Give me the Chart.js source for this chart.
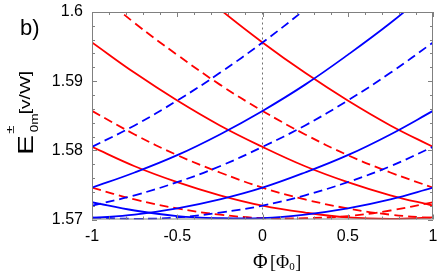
<!DOCTYPE html>
<html>
<head>
<meta charset="utf-8">
<title>E0m vs flux</title>
<script src="https://cdn.jsdelivr.net/npm/chart.js@4.4.1/dist/chart.umd.min.js"></script>
<style>
  html, body { margin: 0; padding: 0; background: #fff; }
  #wrap { width: 439px; height: 277px; }
</style>
</head>
<body>
<div id="wrap"><canvas id="chart" width="439" height="277"></canvas></div>
<script>
const phi = [-1, -0.75, -0.5, -0.25, 0, 0.25, 0.5, 0.75, 1];

// Blue, solid (rising branches)
const blueSolidA = [1.5725, 1.5713, 1.5705, 1.5702, 1.5702, 1.5707, 1.5716, 1.5729, 1.5746];
const blueSolidB = [1.5702, 1.5707, 1.5716, 1.5729, 1.5746, 1.5768, 1.5793, 1.5823, 1.5857];
const blueSolidC = [1.5746, 1.5768, 1.5793, 1.5823, 1.5857, 1.5895, 1.5938, 1.5984, 1.6035];

// Blue, dashed
const blueDashA = [1.5703, 1.5701, 1.5703, 1.5710, 1.5720, 1.5735, 1.5754, 1.5777, 1.5805];
const blueDashB = [1.5720, 1.5735, 1.5754, 1.5777, 1.5805, 1.5836, 1.5872, 1.5912, 1.5956];
const blueDashC = [1.5805, 1.5836, 1.5872, 1.5912, 1.5956, 1.6004, 1.6057, 1.6113, 1.6174];

// Red, solid (falling branches)
const redSolidA = [1.5805, 1.5777, 1.5754, 1.5735, 1.5720, 1.5710, 1.5703, 1.5701, 1.5703];
const redSolidB = [1.5956, 1.5912, 1.5872, 1.5836, 1.5805, 1.5777, 1.5754, 1.5735, 1.5720];
const redSolidC = [1.6174, 1.6113, 1.6057, 1.6004, 1.5956, 1.5912, 1.5872, 1.5836, 1.5805];

// Red, dashed
const redDashA = [1.5746, 1.5729, 1.5716, 1.5707, 1.5702, 1.5702, 1.5705, 1.5713, 1.5725];
const redDashB = [1.5857, 1.5823, 1.5793, 1.5768, 1.5746, 1.5729, 1.5716, 1.5707, 1.5702];
const redDashC = [1.6035, 1.5984, 1.5938, 1.5895, 1.5857, 1.5823, 1.5793, 1.5768, 1.5746];

// Axis ticks
const xTickLabels = ['-1', '-0.5', '0', '0.5', '1'];
const yTickLabels = ['1.57', '1.58', '1.59', '1.6'];

const RED = '#ff0000';
const BLUE = '#0000ff';

function series(values, color, dashed) {
    return {
        data: phi.map((p, i) => ({ x: p, y: values[i] })),
        borderColor: color,
        borderWidth: 1.8,
        borderDash: dashed ? [9, 5] : [],
        pointRadius: 0,
        tension: 0.4,
        fill: false
    };
}

// Frame with inward ticks on all four sides
const framePlugin = {
    id: 'frame',
    afterDraw(chart) {
        const { ctx, chartArea: a, scales } = chart;
        const xs = scales.x, ys = scales.y;
        ctx.save();
        ctx.strokeStyle = '#808080';
        ctx.lineWidth = 1;
        ctx.strokeRect(a.left + 0.5, a.top + 0.5, a.right - a.left - 1, a.bottom - a.top - 1);
        ctx.beginPath();
        for (let i = -10; i <= 10; i++) {
            const px = Math.round(xs.getPixelForValue(i / 10)) + 0.5;
            const len = i % 5 === 0 ? 5 : 3;
            ctx.moveTo(px, a.bottom);
            ctx.lineTo(px, a.bottom - len);
            ctx.moveTo(px, a.top);
            ctx.lineTo(px, a.top + len);
        }
        for (let i = 0; i <= 15; i++) {
            const py = Math.round(ys.getPixelForValue(1.57 + i * 0.002)) + 0.5;
            const len = i % 5 === 0 ? 5 : 3;
            ctx.moveTo(a.left, py);
            ctx.lineTo(a.left + len, py);
            ctx.moveTo(a.right, py);
            ctx.lineTo(a.right - len, py);
        }
        ctx.stroke();
        ctx.restore();
    }
};

// Panel letter and axis titles
const titlePlugin = {
    id: 'titles',
    afterDraw(chart) {
        const ctx = chart.ctx;
        ctx.save();
        ctx.fillStyle = '#000';
        ctx.textBaseline = 'alphabetic';
        ctx.textAlign = 'left';

        ctx.font = '22px "Liberation Sans"';
        ctx.fillText('b)', 20, 35);

        // y title, rotated and stretched along the text
        ctx.save();
        ctx.translate(33, 155);
        ctx.rotate(-Math.PI / 2);
        ctx.scale(1.36, 1);
        ctx.font = '22px "Liberation Sans"';
        ctx.fillText('E', 0, 0);
        const ew = ctx.measureText('E').width;
        ctx.font = '10px "Liberation Sans"';
        ctx.fillText('0m', ew + 2, 5);
        ctx.font = '11px "Liberation Sans"';
        ctx.fillText('\u00b1', ew + 1, -19);
        ctx.font = '14px "Liberation Sans"';
        ctx.fillText('[v/W]', 30, -3);
        ctx.restore();

        // x title
        let x = 253;
        ctx.font = '20px "Liberation Serif"';
        ctx.fillText('\u03a6', x, 268);
        x = 270;
        ctx.font = '18px "Liberation Serif"';
        ctx.fillText('[\u03a6', x, 268);
        x += ctx.measureText('[\u03a6').width;
        ctx.font = '11px "Liberation Serif"';
        ctx.fillText('0', x, 270);
        x += ctx.measureText('0').width + 0.5;
        ctx.font = '18px "Liberation Serif"';
        ctx.fillText(']', x, 268);
        ctx.restore();
    }
};

const datasets = [
    series(blueSolidA, BLUE, false),
    series(blueSolidB, BLUE, false),
    series(blueSolidC, BLUE, false),
    series(blueDashA, BLUE, true),
    series(blueDashB, BLUE, true),
    series(blueDashC, BLUE, true),
    series(redSolidA, RED, false),
    series(redSolidB, RED, false),
    series(redSolidC, RED, false),
    series(redDashA, RED, true),
    series(redDashB, RED, true),
    series(redDashC, RED, true),
    {
        data: [{ x: 0, y: 1.57 }, { x: 0, y: 1.6 }],
        borderColor: '#707070',
        borderWidth: 1,
        borderDash: [2, 3],
        pointRadius: 0,
        tension: 0
    }
];

const tickFont = { family: 'Liberation Sans', size: 16 };

// keep the plot box where it is in the picture, labels may overhang
function noPad(s) {
    s.paddingTop = 0;
    s.paddingBottom = 0;
    s.paddingLeft = 0;
    s.paddingRight = 0;
}

new Chart(document.getElementById('chart').getContext('2d'), {
    type: 'line',
    data: { datasets },
    options: {
        responsive: false,
        animation: false,
        devicePixelRatio: 1,
        layout: { padding: { top: 12, right: 6, left: 0, bottom: 0 } },
        plugins: { legend: { display: false }, tooltip: { enabled: false } },
        scales: {
            x: {
                type: 'linear',
                min: -1,
                max: 1,
                grid: { display: false, drawTicks: false },
                border: { display: false },
                ticks: {
                    stepSize: 0.5,
                    padding: 7,
                    color: '#000',
                    font: tickFont,
                    maxRotation: 0,
                    callback: (v) => xTickLabels[Math.round((v + 1) * 2)]
                },
                afterFit: (s) => { s.height = 57.5; noPad(s); }
            },
            y: {
                type: 'linear',
                min: 1.57,
                max: 1.6,
                grid: { display: false, drawTicks: false },
                border: { display: false },
                ticks: {
                    stepSize: 0.01,
                    padding: 9,
                    color: '#000',
                    font: tickFont,
                    callback: (v) => yTickLabels[Math.round((v - 1.57) * 100)]
                },
                afterFit: (s) => { s.width = 92; noPad(s); }
            }
        }
    },
    plugins: [framePlugin, titlePlugin]
});
</script>
</body>
</html>
